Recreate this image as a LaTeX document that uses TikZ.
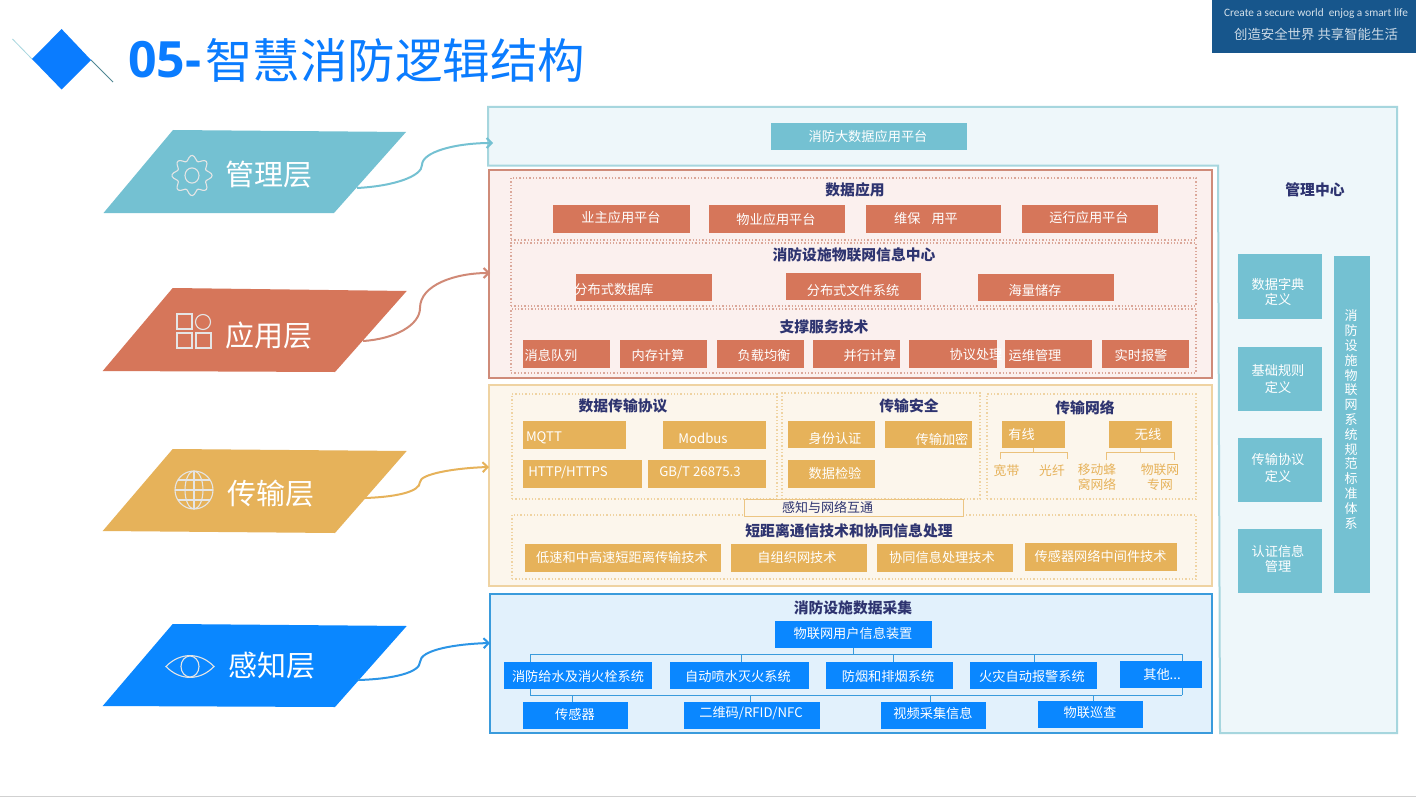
\documentclass[tikz,border=0pt]{standalone}
\usepackage{fontspec}
\usetikzlibrary{arrows.meta,calc}
\newfontfamily\cjk{Noto Sans CJK SC}
\newfontfamily\opensans{Open Sans}
\newfontfamily\carl{Carlito}
\definecolor{teal1}{HTML}{74C1D2}
\definecolor{tealbg}{HTML}{EEF7FA}
\definecolor{tealln}{HTML}{A6D6DE}
\definecolor{red1}{HTML}{D6765A}
\definecolor{redbg}{HTML}{FBF0EE}
\definecolor{redln}{HTML}{CF8B79}
\definecolor{gold1}{HTML}{E6B25A}
\definecolor{goldbg}{HTML}{FCF6EC}
\definecolor{goldln}{HTML}{EFD3A2}
\definecolor{blue1}{HTML}{0A87FF}
\definecolor{bluebg}{HTML}{E2F1FC}
\definecolor{blueln}{HTML}{3A9BDC}
\definecolor{navy}{HTML}{2E3470}
\definecolor{titleblue}{HTML}{0A7CFF}
\definecolor{logo}{HTML}{17568C}
\tikzset{
  rectn/.style={inner sep=0pt,outer sep=0pt,draw=none},
  tealbox/.style={rectn,fill=teal1},
  redbox/.style={rectn,fill=red1},
  goldbox/.style={rectn,fill=gold1},
  bluebox/.style={rectn,fill=blue1},
  whitetext/.style={text=white,inner sep=0pt,font=\cjk\fontsize{13.2}{15}\selectfont},
  headtext/.style={text=navy,inner sep=0pt,font=\cjk\bfseries\fontsize{14.8}{17}\selectfont},
  goldtext/.style={text=gold1,inner sep=0pt,align=center,font=\cjk\fontsize{12.8}{15}\selectfont},
  layertext/.style={text=white,inner sep=0pt,font=\cjk\fontsize{29}{32}\selectfont},
  dashred/.style={rectn,draw=redln!75,dotted,line width=1.3pt},
  dashgold/.style={rectn,draw=goldln,dotted,line width=1.3pt},
  outerred/.style={rectn,draw=redln,fill=redbg,line width=2pt},
  outergold/.style={rectn,draw=goldln,fill=goldbg,line width=2pt},
  outerblue/.style={rectn,draw=blueln,fill=bluebg,line width=1.6pt},
  layerarrow/.style={line width=2pt,-{Straight Barb[length=5pt,width=10pt]}},
  busline/.style={draw=blueln,line width=1pt},
  bracket/.style={draw=gold1!80,line width=1pt},
  iconline/.style={draw=white!90!black,line width=1.1pt},
}
% name, style, x0, y0, x1, y1, text x, text y, text
\newcommand\bx[9]{\node[#2,minimum width={#5-#3},minimum height={#6-#4}] (#1) at ({(#3+#5)/2},{(#4+#6)/2}) {};
  \node[whitetext] (#1-t) at (#7,#8) {#9};}
\newcommand\frm[6]{\node[#2,minimum width={#5-#3},minimum height={#6-#4}] (#1) at ({(#3+#5)/2},{(#4+#6)/2}) {};}
\begin{document}
\begin{tikzpicture}[x=1pt,y=-1pt]
\useasboundingbox (0,0) rectangle (1416,797);
\fill[white] (0,0) rectangle (1416,797);
\draw[black!18,line width=1pt] (0,796) -- (1416,796);

% logo
\node[rectn,fill=logo,minimum width=204,minimum height=53] (logobox) at (1314,26.5) {};
\node[text=white!82!logo,inner sep=0pt,font=\carl\fontsize{11.3}{13}\selectfont] (logoen) at (1316,14) {Create a secure world\ \ enjog a smart life};
\node[text=white!78!logo,inner sep=0pt,font=\cjk\fontsize{13.4}{15}\selectfont] (logozh) at (1316,34.5) {创造安全世界 共享智能生活};

% title mark
\draw[tealln,line width=.8pt] (12.5,39) -- (32,59);
\draw[black!30!teal1,line width=1pt] (91,60) -- (113,82);
\fill[titleblue] (61.6,29) -- (91,60) -- (61.6,89.5) -- (32,59) -- cycle;
\node[anchor=west,text=titleblue,inner sep=0pt,font=\opensans\bfseries\fontsize{50}{52}\selectfont] (t05) at (128,60) {05-};
\node[anchor=west,text=titleblue,inner sep=0pt,font=\cjk\fontsize{47.5}{50}\selectfont] (tzh) at (205,60) {智慧消防逻辑结构};

% management centre
\draw[tealln,fill=tealbg,line width=2pt] (488,107) -- (1397,107) -- (1397,733) -- (1220,733) -- (1218,165.5) -- (488,165.5) -- cycle;
\bx{bigdata}{tealbox}{771}{123}{967}{150}{868}{136}{消防大数据应用平台}
\node[headtext] (mgmtc) at (1315,190) {管理中心};
\bx{r1}{tealbox}{1238}{254}{1322}{319}{1278}{292}{\parbox{60pt}{\centering 数据字典\\[.5pt]定义}}
\bx{r2}{tealbox}{1238}{347}{1322}{411}{1278}{379}{\parbox{60pt}{\centering 基础规则\\[2.5pt]定义}}
\bx{r3}{tealbox}{1238}{438}{1322}{502}{1278}{468}{\parbox{60pt}{\centering 传输协议\\[2.5pt]定义}}
\bx{r4}{tealbox}{1238}{529}{1322}{593}{1278}{559}{\parbox{60pt}{\centering 认证信息\\管理}}
\node[tealbox,minimum width=36,minimum height=337] (rtall) at (1352,424.5) {};
\node[whitetext,align=center,font=\cjk\fontsize{13}{14.8}\selectfont] (rtall-t) at (1351,419.5) {消\\防\\设\\施\\物\\联\\网\\系\\统\\规\\范\\标\\准\\体\\系};

% application block
\frm{appo}{outerred}{489}{170}{1212}{378}{}
\frm{appa}{dashred}{511}{178}{1196}{240}{}
\frm{appb}{dashred}{511}{243}{1196}{306}{}
\frm{appc}{dashred}{511}{309}{1196}{373}{}
\node[headtext] (apph1) at (855,190) {数据应用};
\node[headtext] (apph2) at (854,255) {消防设施物联网信息中心};
\node[headtext] (apph3) at (824,327) {支撑服务技术};
\bx{a1}{redbox}{553}{205}{690}{233}{621}{217}{业主应用平台}
\bx{a2}{redbox}{709}{205}{845}{233}{776}{219}{物业应用平台}
\bx{a3}{redbox}{866}{205}{1001}{233}{926}{219}{维保\hspace{11pt}用平}
\bx{a4}{redbox}{1022}{205}{1158}{233}{1089}{217}{运行应用平台}
\bx{b1}{redbox}{576}{274}{712}{301}{614}{290}{分布式数据库}
\bx{b2}{redbox}{786}{273}{921}{300}{853}{290}{分布式文件系统}
\bx{b3}{redbox}{978}{274}{1114}{301}{1035}{290}{海量储存}
\bx{c1}{redbox}{523}{340}{610}{368}{551}{355}{消息队列}
\bx{c2}{redbox}{620}{340}{707}{368}{658}{355}{内存计算}
\bx{c3}{redbox}{717}{340}{804}{368}{764}{355}{负载均衡}
\bx{c4}{redbox}{813}{340}{900}{368}{870}{355}{并行计算}
\bx{c5}{redbox}{909}{340}{997}{368}{976}{355}{协议处理}
\bx{c6}{redbox}{1005}{340}{1092}{368}{1035}{355}{运维管理}
\bx{c7}{redbox}{1102}{340}{1189}{368}{1141}{355}{实时报警}

% transport block
\frm{tro}{outergold}{489}{385}{1212}{586}{}
\frm{tra}{dashgold}{512}{394}{777}{499}{}
\frm{trb}{dashgold}{782}{393}{980}{499}{}
\frm{trc}{dashgold}{987}{394}{1196}{499}{}
\frm{trd}{dashgold}{512}{515}{1196}{579}{}
\node[rectn,draw=gold1!75,fill=goldbg,line width=1pt,minimum width=219,minimum height=17] (link) at (853.5,507.5) {};
\node[text=navy,inner sep=0pt,font=\cjk\fontsize{13}{15}\selectfont] (link-t) at (827.5,507) {感知与网络互通};
\node[headtext] (trh1) at (623,406) {数据传输协议};
\node[headtext] (trh2) at (909,406) {传输安全};
\node[headtext] (trh3) at (1085,408) {传输网络};
\node[headtext] (trh4) at (849,531) {短距离通信技术和协同信息处理};
\bx{p1}{goldbox}{523}{421}{626}{449}{544}{438}{MQTT}
\bx{p2}{goldbox}{663}{421}{766}{449}{703}{438}{Modbus}
\bx{p3}{goldbox}{523}{460}{641.5}{488}{568}{472}{HTTP/HTTPS}
\bx{p4}{goldbox}{648}{460}{766}{488}{700}{472}{GB/T 26875.3}
\bx{s1}{goldbox}{788}{421}{875}{448}{835}{439}{身份认证}
\bx{s2}{goldbox}{885}{421}{972}{448}{942}{439}{传输加密}
\bx{s3}{goldbox}{788}{460}{875}{488}{835}{473}{数据检验}
\bx{wired}{goldbox}{1001.5}{421}{1065}{448}{1021.5}{434}{有线}
\bx{wless}{goldbox}{1109}{421}{1172}{448}{1148}{434}{无线}
\coordinate (wl) at (1000,452);
\coordinate (wr) at (1067,452);
\coordinate (xl) at (1106,452);
\coordinate (xr) at (1174,452);
\draw[bracket] (wired.south) -- (wired.south |- wl);
\draw[bracket] ($(wl)+(0,7)$) -- (wl) -- (wr) -- ($(wr)+(0,7)$);
\draw[bracket] (wless.south) -- (wless.south |- xl);
\draw[bracket] ($(xl)+(0,8)$) -- (xl) -- (xr) -- ($(xr)+(0,8)$);
\node[goldtext] (g1) at (1006.5,471) {宽带};
\node[goldtext] (g2) at (1052,471) {光纤};
\node[goldtext] (g3) at (1097,477.5) {移动蜂\\窝网络};
\node[goldtext] (g4) at (1160,477.5) {物联网\\专网};
\bx{d1}{goldbox}{525}{544}{721}{572}{622}{557}{低速和中高速短距离传输技术}
\bx{d2}{goldbox}{731}{544}{866.5}{572}{797}{557}{自组织网技术}
\bx{d3}{goldbox}{877}{544}{1012.5}{572}{942}{557}{协同信息处理技术}
\bx{d4}{goldbox}{1025}{543}{1177}{571}{1100.6}{556}{传感器网络中间件技术}

% perception block
\frm{seo}{outerblue}{490}{594}{1212}{733}{}
\node[headtext] (seh) at (853,608) {消防设施数据采集};
\coordinate (busTL) at (530,654);
\coordinate (busTR) at (1182,654);
\coordinate (busBL) at (530,695);
\coordinate (busBR) at (1182,695);
\draw[busline] (busTL) -- (busTR);
\draw[busline] (busBL) -- (busBR);
\draw[busline] (busTL) -- (busBL);
\draw[busline] (busTR) -- (busBR);
\bx{top}{bluebox}{775}{621}{932}{648}{853}{633}{物联网用户信息装置}
\draw[busline] (top.south) -- (top.south |- busTL);
\bx{e1}{bluebox}{504.4}{662}{652}{689}{578}{676}{消防给水及消火栓系统}
\bx{e2}{bluebox}{670}{662}{808.5}{689}{738}{676}{自动喷水灭火系统}
\bx{e3}{bluebox}{826}{662}{953}{689}{888}{676}{防烟和排烟系统}
\bx{e4}{bluebox}{970}{662}{1096.6}{689}{1032}{676}{火灾自动报警系统}
\bx{e5}{bluebox}{1120}{661}{1202}{688}{1162}{674}{其他...}
\coordinate (e2t) at (741,662);
\coordinate (e3t) at (893,662);
\coordinate (e4t) at (1034,662);
\draw[busline] (e2t |- busTL) -- (e2t);
\draw[busline] (e3t |- busTL) -- (e3t);
\draw[busline] (e4t |- busTL) -- (e4t);
\bx{f1}{bluebox}{522.6}{702}{628}{729}{575}{714}{传感器}
\bx{f2}{bluebox}{684}{702}{819.6}{729}{751}{713}{二维码/RFID/NFC}
\bx{f3}{bluebox}{881}{702}{986}{729}{933}{713}{视频采集信息}
\bx{f4}{bluebox}{1038}{701}{1143}{728}{1090}{713}{物联巡查}
\coordinate (f1t) at (572,702);
\coordinate (f2t) at (750,702);
\coordinate (f3t) at (930,702);
\coordinate (f4t) at (1093,701);
\draw[busline] (f1t |- busBL) -- (f1t);
\draw[busline] (f2t |- busBL) -- (f2t);
\draw[busline] (f3t |- busBL) -- (f3t);
\draw[busline] (f4t |- busBL) -- (f4t);

% layer parallelograms
\fill[teal1] (173,130) -- (406,132) -- (334,213) -- (103.5,213) -- cycle;
\fill[red1] (172.7,288) -- (406.7,291) -- (335,372) -- (102.7,371) -- cycle;
\fill[gold1] (172.7,449) -- (406.7,451) -- (335,533) -- (102.7,531) -- cycle;
\fill[blue1] (172.7,624) -- (406.7,626) -- (335,707) -- (102.7,706) -- cycle;
\node[layertext] (l1) at (268.5,174.5) {管理层};
\node[layertext] (l2) at (268.5,335.5) {应用层};
\node[layertext] (l3) at (271,493.5) {传输层};
\node[layertext] (l4) at (272,665.5) {感知层};

% icons
\draw[iconline] plot[smooth cycle,samples=65,domain=0:354.375,variable=\t]
  ({192+(17.5+2.6*cos(8*\t))*cos(\t)},{175.5+(17.5+2.6*cos(8*\t))*sin(\t)});
\draw[iconline] (192,175.5) ellipse [x radius=7,y radius=7.6];
\draw[iconline] (177,314) rectangle (192,329);
\draw[iconline] (203,322) circle [radius=7.5];
\draw[iconline] (177,333) rectangle (192,348);
\draw[iconline] (196,333) rectangle (211,348);
\draw[iconline] (194,490) circle [radius=19];
\draw[iconline] (194,490) ellipse [x radius=9,y radius=19];
\draw[iconline] (194,471) -- (194,509);
\draw[iconline] (175,490) -- (213,490);
\draw[iconline] (178,480) -- (210,480);
\draw[iconline] (178,500) -- (210,500);
\draw[iconline] (166,666.5) .. controls (180,652) and (200,652) .. (214,666.5) .. controls (200,681) and (180,681) .. (166,666.5) -- cycle;
\draw[iconline] (190,666.5) ellipse [x radius=9,y radius=10.5];

% layer arrows
\coordinate (m0) at (357,188);  \coordinate (m1) at (422,165);  \coordinate (m2) at (493,143);
\coordinate (a0) at (363,341);  \coordinate (a5) at (420,308);  \coordinate (a9) at (490,273);
\coordinate (g0) at (365,498);  \coordinate (g5) at (420,482);  \coordinate (g9) at (489,467);
\coordinate (h0) at (358,680);  \coordinate (h5) at (420,662);  \coordinate (h9) at (490,643);
\draw[layerarrow,draw=teal1] (m0) .. controls (395,186) and (422,176) .. (m1) .. controls (422,152) and (455,143) .. (m2);
\draw[layerarrow,draw=redln!90!red1] (a0) .. controls (395,339) and (420,325) .. (a5) .. controls (420,285) and (455,273) .. (a9);
\draw[layerarrow,draw=gold1] (g0) .. controls (395,497) and (420,492) .. (g5) .. controls (420,474) and (455,468) .. (g9);
\draw[layerarrow,draw=blueln!70!blue1] (h0) .. controls (395,679) and (420,672) .. (h5) .. controls (420,650) and (455,644) .. (h9);
\end{tikzpicture}
\end{document}
